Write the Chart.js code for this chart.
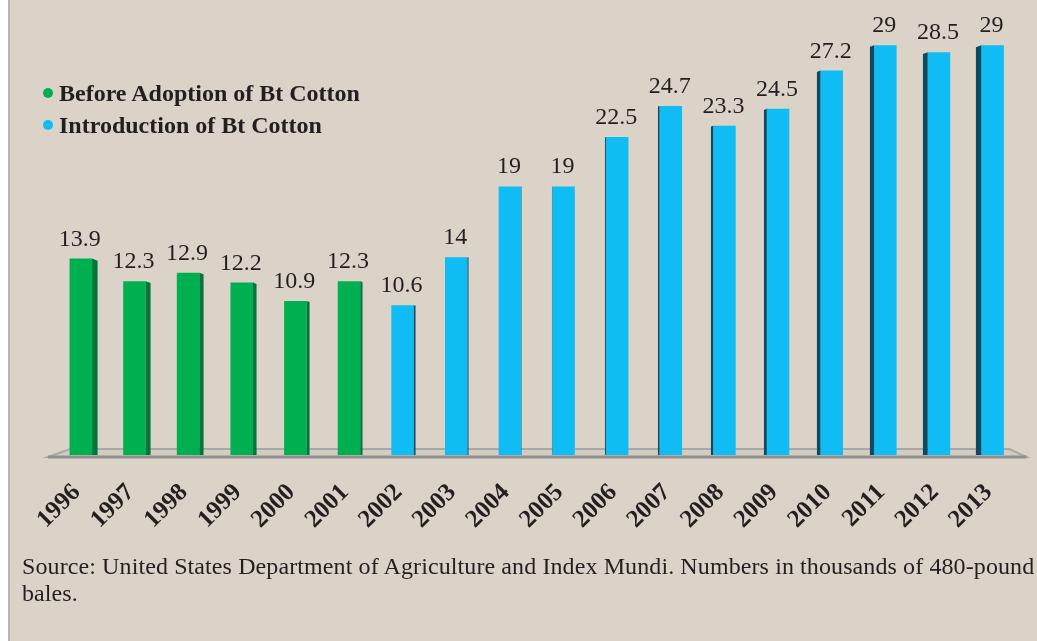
<!DOCTYPE html>
<html>
<head>
<meta charset="utf-8">
<script src="https://cdn.jsdelivr.net/npm/chart.js@4.4.1/dist/chart.umd.min.js"></script>
<style>
  html, body { margin: 0; padding: 0; background: #fff; }
  #frame {
    position: absolute; left: 8px; top: 0; width: 1029px; height: 641px;
    background: #DBD3C7; border-left: 2px solid #B5B5B5; box-sizing: border-box;
  }
  #wrap { position: absolute; left: 0; top: 0; width: 1037px; height: 641px; }
  #legend {
    position: absolute; left: 43px; top: 78px;
    font-family: "Liberation Serif", serif; font-weight: bold; font-size: 24px; color: #231F20;
  }
  #legend div { height: 32px; line-height: 30px; white-space: nowrap; }
  #legend span.dot {
    display: inline-block; width: 10px; height: 10px; border-radius: 50%;
    margin-right: 6px; vertical-align: 3px;
  }
  #source {
    position: absolute; left: 22px; top: 553px; width: 1030px;
    font-family: "Liberation Serif", serif; font-size: 24px; line-height: 27px; color: #231F20;
    letter-spacing: 0.1px;
  }
</style>
</head>
<body>
<div id="frame"></div>
<div id="wrap"><canvas id="cottonChart"></canvas></div>
<div id="legend">
  <div><span class="dot" style="background:#00B050"></span>Before Adoption of Bt Cotton</div>
  <div><span class="dot" style="background:#0FBCF3"></span>Introduction of Bt Cotton</div>
</div>
<div id="source">Source: United States Department of Agriculture and Index Mundi. Numbers in thousands of 480-pound<br>bales.</div>
<script>
// data
const years = ['1996','1997','1998','1999','2000','2001','2002','2003','2004',
               '2005','2006','2007','2008','2009','2010','2011','2012','2013'];
const beforeBt = [13.9, 12.3, 12.9, 12.2, 10.9, 12.3, null, null, null,
                  null, null, null, null, null, null, null, null, null];
const afterBt = [null, null, null, null, null, null, 10.6, 14, 19,
                 19, 22.5, 24.7, 23.3, 24.5, 27.2, 29, 28.5, 29];

const sideColors = ['#00773A', '#0A4A63'];

// floor under the bars
const floorPlugin = {
  id: 'floor',
  beforeDatasetsDraw(chart) {
    const { ctx, chartArea } = chart;
    const b = chartArea.bottom;
    const l = chartArea.left, r = chartArea.right;
    ctx.save();
    ctx.beginPath();
    ctx.moveTo(l - 6, b + 2);
    ctx.lineTo(l + 16, b - 6);
    ctx.lineTo(r - 10, b - 6);
    ctx.lineTo(r + 7, b + 2);
    ctx.closePath();
    ctx.fillStyle = '#D3CCC0';
    ctx.fill();
    ctx.strokeStyle = '#A8A8A8';
    ctx.lineWidth = 2;
    ctx.stroke();
    ctx.beginPath();
    ctx.moveTo(l - 6, b + 2);
    ctx.lineTo(r + 7, b + 2);
    ctx.strokeStyle = '#909090';
    ctx.lineWidth = 3;
    ctx.stroke();
    ctx.restore();
  }
};

// dark side faces + value labels
const sidePlugin = {
  id: 'sides',
  afterDatasetsDraw(chart) {
    const ctx = chart.ctx;
    const vx = 540;
    ctx.save();
    chart.data.datasets.forEach((ds, di) => {
      const meta = chart.getDatasetMeta(di);
      meta.data.forEach((bar, i) => {
        const v = ds.data[i];
        if (v === null) return;
        const half = bar.width / 2;
        const s = Math.min(6, Math.abs(bar.x - vx) * 0.012);
        const edge = bar.x < vx ? bar.x + half : bar.x - half;
        const out = bar.x < vx ? edge + s : edge - s;
        ctx.beginPath();
        ctx.moveTo(edge, bar.y);
        ctx.lineTo(out, bar.y + s * 0.4);
        ctx.lineTo(out, bar.base);
        ctx.lineTo(edge, bar.base);
        ctx.closePath();
        ctx.fillStyle = sideColors[di];
        ctx.fill();

        ctx.font = '24px "Liberation Serif"';
        ctx.fillStyle = '#231F20';
        ctx.textAlign = 'center';
        ctx.textBaseline = 'alphabetic';
        ctx.fillText(String(v), bar.x - 1, bar.y - 13);
      });
    });
    ctx.restore();
  }
};

const cottonData = {
  labels: years,
  datasets: [{
    label: 'Before Adoption of Bt Cotton',
    data: beforeBt,
    backgroundColor: '#00B050',
    skipNull: true,
    categoryPercentage: 1,
    barPercentage: 0.42
  }, {
    label: 'Introduction of Bt Cotton',
    data: afterBt,
    backgroundColor: '#0FBCF3',
    skipNull: true,
    categoryPercentage: 1,
    barPercentage: 0.42
  }]
};

const cottonOptions = {
  responsive: true,
  maintainAspectRatio: false,
  animation: false,
  layout: { padding: { left: 54, right: 7, top: 31, bottom: 0 } },
  plugins: {
    legend: { display: false },
    tooltip: { enabled: false }
  },
  scales: {
    x: {
      grid: { display: false, drawTicks: false },
      border: { display: false },
      afterFit(scale) { scale.height = 186; },
      ticks: {
        minRotation: 45,
        maxRotation: 45,
        padding: 23,
        labelOffset: -4,
        color: '#231F20',
        font: { family: 'Liberation Serif', weight: 'bold', size: 25 }
      }
    },
    y: {
      display: false,
      min: 0,
      max: 30
    }
  }
};

const cottonChart = new Chart(document.getElementById('cottonChart'), {
  type: 'bar',
  data: cottonData,
  options: cottonOptions,
  plugins: [floorPlugin, sidePlugin]
});
</script>
</body>
</html>
